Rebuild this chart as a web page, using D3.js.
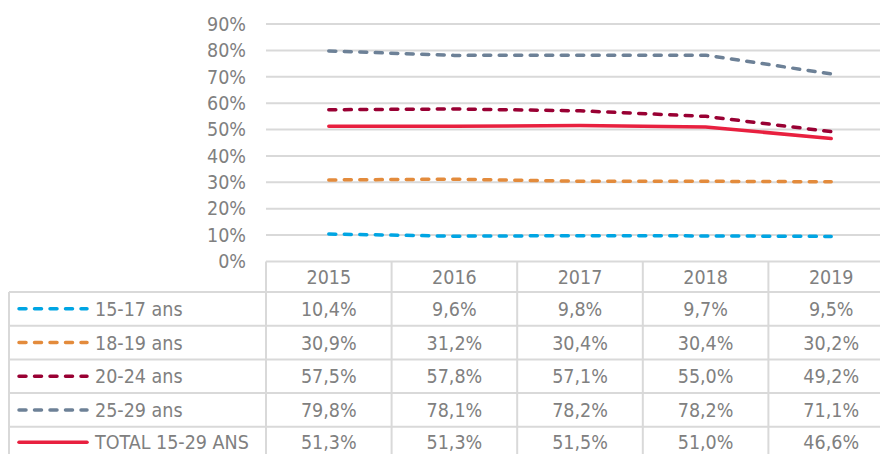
<!DOCTYPE html>
<html><head><meta charset="utf-8">
<script src="https://cdn.jsdelivr.net/npm/d3@7"></script>
<style>
html,body{margin:0;padding:0;background:#fff;}
svg{display:block;}
text{font-family:"DejaVu Sans Condensed","DejaVu Sans",sans-serif;fill:#808080;}
</style></head>
<body><svg id="c" width="880" height="454"></svg>
<script>
const years = ["2015","2016","2017","2018","2019"];
const seriesNames = ["15-17 ans","18-19 ans","20-24 ans","25-29 ans","TOTAL 15-29 ANS"];
const s1517 = [10.4, 9.6, 9.8, 9.7, 9.5];
const s1819 = [30.9, 31.2, 30.4, 30.4, 30.2];
const s2024 = [57.5, 57.8, 57.1, 55.0, 49.2];
const s2529 = [79.8, 78.1, 78.2, 78.2, 71.1];
const sTotal = [51.3, 51.3, 51.5, 51.0, 46.6];
const colors = ["#00a5e3","#e38b3c","#990033","#6d8197","#e8203f"];
const dashed = [true,true,true,true,false];
const yTicks = [0,10,20,30,40,50,60,70,80,90];

const series = [s1517,s1819,s2024,s2529,sTotal].map((v,i)=>({name:seriesNames[i],values:v,color:colors[i],dashed:dashed[i]}));

const svg = d3.select("#c");
const x = d3.scaleBand().domain(years).range([266, 894]);
const y = d3.scaleLinear().domain([0, 90]).range([261.5, 24]);
const grid = "#d9d9d9";
const fs = 19.5;
const fmt = v => d3.format(".1f")(v).replace(".", ",") + "%";

// gridlines
svg.append("g").selectAll("line").data(yTicks.filter(t=>t>0)).join("line")
  .attr("x1", 266).attr("x2", 880).attr("y1", d=>y(d)).attr("y2", d=>y(d))
  .attr("stroke", grid).attr("stroke-width", 2);

// y axis labels
const yAxis = d3.axisLeft(y).tickValues(yTicks).tickSize(0).tickPadding(0).tickFormat(d=>d+"%");
const ya = svg.append("g").attr("transform","translate(246,0)").call(yAxis);
ya.select(".domain").remove();
ya.selectAll("text").attr("font-size", fs).attr("fill","#808080")
  .style("font-family",'"DejaVu Sans Condensed","DejaVu Sans",sans-serif');

// table
const rowTop = 292, rowH = 33.7;
const tableBottom = 454;
const tb = svg.append("g");
tb.append("line").attr("x1",266).attr("x2",880).attr("y1",y(0)).attr("y2",y(0)).attr("stroke",grid).attr("stroke-width",2);
tb.selectAll("line.h").data(d3.range(5)).join("line").attr("class","h")
  .attr("x1",9).attr("x2",880).attr("y1",d=>rowTop+d*rowH).attr("y2",d=>rowTop+d*rowH)
  .attr("stroke",grid).attr("stroke-width",2);
tb.append("line").attr("x1",9).attr("x2",9).attr("y1",rowTop).attr("y2",tableBottom).attr("stroke",grid).attr("stroke-width",2);
tb.selectAll("line.v").data(years).join("line").attr("class","v")
  .attr("x1",d=>x(d)).attr("x2",d=>x(d)).attr("y1",y(0)).attr("y2",tableBottom)
  .attr("stroke",grid).attr("stroke-width",2);
tb.selectAll("text.yr").data(years).join("text").attr("class","yr")
  .attr("x",d=>x(d)+x.bandwidth()/2).attr("y",(y(0)+rowTop)/2).attr("dy","0.36em")
  .attr("text-anchor","middle").attr("font-size",fs).text(d=>d);
series.forEach((s,i)=>{
  const cy = rowTop + i*rowH + rowH/2 - (i===4 ? 1.5 : 0);
  const g = tb.append("g");
  g.append("line").attr("x1",19).attr("x2",87).attr("y1",cy).attr("y2",cy)
    .attr("stroke",s.color).attr("stroke-width",3.5).attr("stroke-linecap","round")
    .attr("stroke-dasharray", s.dashed ? "7,8.5" : null);
  g.append("text").attr("x",95).attr("y",cy).attr("dy","0.36em").attr("font-size",fs).text(s.name);
  g.selectAll("text.v").data(s.values).join("text").attr("class","v")
    .attr("x",(d,j)=>x(years[j])+x.bandwidth()/2).attr("y",cy).attr("dy","0.36em")
    .attr("text-anchor","middle").attr("font-size",fs).text(d=>fmt(d));
});

// lines
const line = d3.line().x((d,j)=>x(years[j])+x.bandwidth()/2).y(d=>y(d));
svg.append("g").selectAll("path").data(series).join("path")
  .attr("d", d=>line(d.values)).attr("fill","none")
  .attr("stroke", d=>d.color).attr("stroke-width", 3.5).attr("stroke-linecap","round")
  .attr("stroke-linejoin","round")
  .attr("stroke-dasharray", d=>d.dashed ? "7,8.5" : null);
</script></body></html>
